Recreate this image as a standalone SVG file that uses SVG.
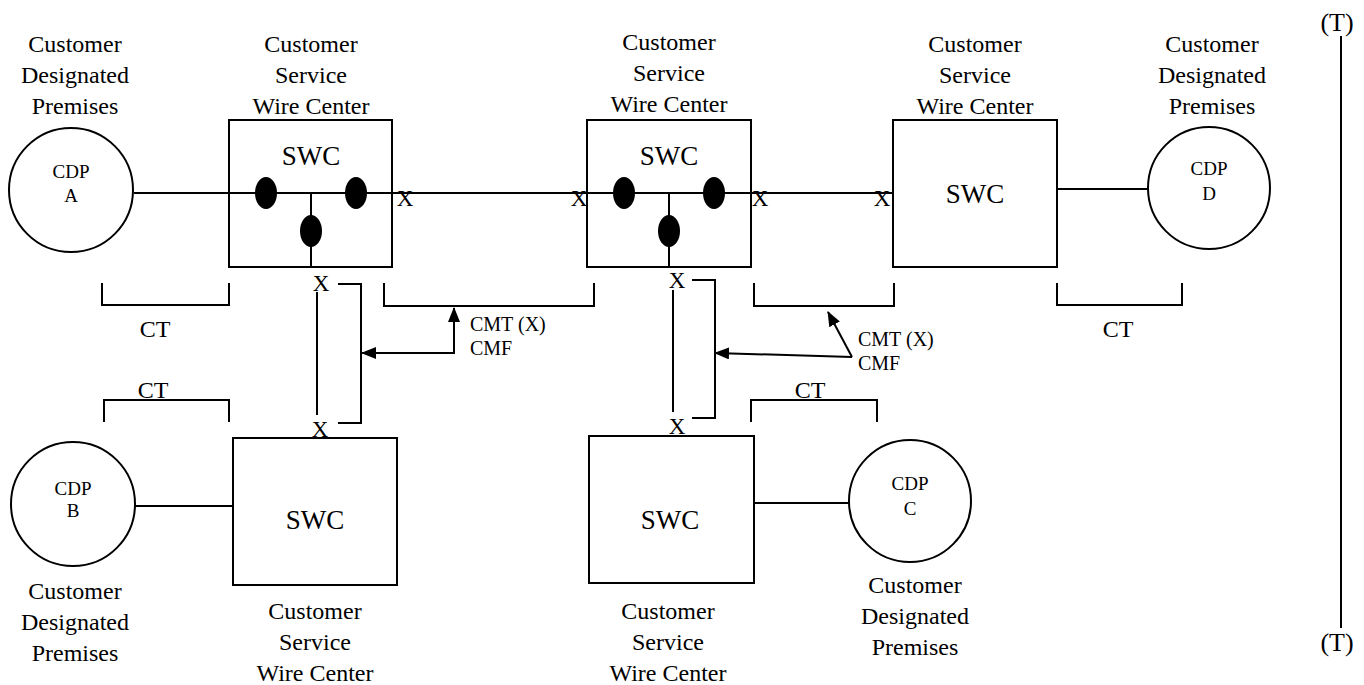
<svg xmlns="http://www.w3.org/2000/svg" width="1364" height="685" viewBox="0 0 1364 685">
<defs>
<marker id="ah" viewBox="0 0 15 12" refX="14" refY="6" markerWidth="15" markerHeight="12" markerUnits="userSpaceOnUse" orient="auto-start-reverse">
<path d="M0,0 L15,6 L0,12 Z" fill="#000"/>
</marker>
</defs>
<style>
text{font-family:"Liberation Serif","Times New Roman",serif;fill:#000}
.lbl{font-size:24px;text-anchor:middle}
.swc{font-size:27px;text-anchor:middle}
.cdp{font-size:19px;text-anchor:middle}
.x{font-size:23px;text-anchor:middle}
.cmt{font-size:20px}
.ct{font-size:24px;text-anchor:middle}
.t{font-size:26px;text-anchor:middle}
.box{fill:#fff;stroke:#000;stroke-width:2}
.ln{fill:none;stroke:#000;stroke-width:2}
.dot{fill:#000}
</style>
<rect width="1364" height="685" fill="#fff"/>

<g id="connectors">
<line class="ln" x1="134" y1="193" x2="229" y2="193"/>
<line class="ln" x1="392" y1="193" x2="587" y2="193"/>
<line class="ln" x1="751" y1="193" x2="893" y2="193"/>
<line class="ln" x1="1057" y1="189" x2="1148" y2="189"/>
<line class="ln" x1="135" y1="506" x2="233" y2="506"/>
<line class="ln" x1="754" y1="503" x2="849" y2="503"/>
<line class="ln" x1="317" y1="292" x2="317" y2="415"/>
<polyline class="ln" points="338,284 361,284 361,423 338,423"/>
<line class="ln" x1="673" y1="290" x2="673" y2="412"/>
<polyline class="ln" points="692,280 715,280 715,418 692,418"/>
<polyline class="ln" points="362,353 454,353 454,308" marker-start="url(#ah)" marker-end="url(#ah)"/>
<line class="ln" x1="852" y1="357" x2="715" y2="353" marker-end="url(#ah)"/>
<line class="ln" x1="852" y1="357" x2="828" y2="312" marker-end="url(#ah)"/>
<line class="ln" x1="1341" y1="36" x2="1341" y2="628"/>
</g>

<g id="brackets">
<polyline class="ln" points="102,283 102,305 229,305 229,283"/>
<polyline class="ln" points="384,283 384,306 594,306 594,283"/>
<polyline class="ln" points="754,283 754,306 894,306 894,283"/>
<polyline class="ln" points="1057,283 1057,305 1182,305 1182,283"/>
<polyline class="ln" points="104,422 104,400 229,400 229,422"/>
<polyline class="ln" points="751,422 751,400 877,400 877,422"/>
<text class="ct" x="155" y="337">CT</text>
<text class="ct" x="1118" y="337">CT</text>
<text class="ct" x="153" y="398">CT</text>
<text class="ct" x="810" y="398">CT</text>
</g>

<g id="cdpA">
<circle class="box" cx="71" cy="190" r="62"/>
<text class="cdp" x="71" y="178">CDP</text>
<text class="cdp" x="71" y="202">A</text>
<text class="lbl" x="75" y="52">Customer</text>
<text class="lbl" x="75" y="83">Designated</text>
<text class="lbl" x="75" y="114">Premises</text>
</g>

<g id="swc1">
<rect class="box" x="229" y="120" width="163" height="147"/>
<line class="ln" x1="229" y1="193" x2="392" y2="193"/>
<line class="ln" x1="311" y1="193" x2="311" y2="267"/>
<ellipse class="dot" cx="266" cy="193" rx="11" ry="16"/>
<ellipse class="dot" cx="356" cy="193" rx="11" ry="16"/>
<ellipse class="dot" cx="311" cy="231" rx="11" ry="16"/>
<text class="swc" x="311" y="165">SWC</text>
<text class="lbl" x="311" y="52">Customer</text>
<text class="lbl" x="311" y="83">Service</text>
<text class="lbl" x="311" y="114">Wire Center</text>
<text class="x" x="405" y="206">X</text>
<text class="x" x="321" y="291">X</text>
</g>

<g id="swc2">
<rect class="box" x="587" y="120" width="164" height="147"/>
<line class="ln" x1="587" y1="193" x2="751" y2="193"/>
<line class="ln" x1="669" y1="193" x2="669" y2="267"/>
<ellipse class="dot" cx="624" cy="193" rx="11" ry="16"/>
<ellipse class="dot" cx="714" cy="193" rx="11" ry="16"/>
<ellipse class="dot" cx="669" cy="231" rx="11" ry="16"/>
<text class="swc" x="669" y="165">SWC</text>
<text class="lbl" x="669" y="50">Customer</text>
<text class="lbl" x="669" y="81">Service</text>
<text class="lbl" x="669" y="112">Wire Center</text>
<text class="x" x="579" y="206">X</text>
<text class="x" x="760" y="206">X</text>
<text class="x" x="677" y="288">X</text>
</g>

<g id="swc3">
<rect class="box" x="893" y="120" width="164" height="147"/>
<text class="swc" x="975" y="203">SWC</text>
<text class="lbl" x="975" y="52">Customer</text>
<text class="lbl" x="975" y="83">Service</text>
<text class="lbl" x="975" y="114">Wire Center</text>
<text class="x" x="882" y="206">X</text>
</g>

<g id="cdpD">
<circle class="box" cx="1209" cy="188" r="61"/>
<text class="cdp" x="1209" y="175">CDP</text>
<text class="cdp" x="1209" y="200">D</text>
<text class="lbl" x="1212" y="52">Customer</text>
<text class="lbl" x="1212" y="83">Designated</text>
<text class="lbl" x="1212" y="114">Premises</text>
</g>

<g id="cdpB">
<circle class="box" cx="73" cy="504" r="62"/>
<text class="cdp" x="73" y="495">CDP</text>
<text class="cdp" x="73" y="517">B</text>
<text class="lbl" x="75" y="599">Customer</text>
<text class="lbl" x="75" y="630">Designated</text>
<text class="lbl" x="75" y="661">Premises</text>
</g>

<g id="swc4">
<rect class="box" x="233" y="438" width="164" height="147"/>
<text class="swc" x="315" y="529">SWC</text>
<text class="x" x="320" y="437">X</text>
<text class="lbl" x="315" y="619">Customer</text>
<text class="lbl" x="315" y="650">Service</text>
<text class="lbl" x="315" y="681">Wire Center</text>
</g>

<g id="swc5">
<rect class="box" x="589" y="436" width="165" height="147"/>
<text class="swc" x="670" y="529">SWC</text>
<text class="x" x="677" y="434">X</text>
<text class="lbl" x="668" y="619">Customer</text>
<text class="lbl" x="668" y="650">Service</text>
<text class="lbl" x="668" y="681">Wire Center</text>
</g>

<g id="cdpC">
<circle class="box" cx="910" cy="501" r="61"/>
<text class="cdp" x="910" y="490">CDP</text>
<text class="cdp" x="910" y="515">C</text>
<text class="lbl" x="915" y="593">Customer</text>
<text class="lbl" x="915" y="624">Designated</text>
<text class="lbl" x="915" y="655">Premises</text>
</g>

<g id="labels">
<text class="cmt" x="470" y="331">CMT (X)</text>
<text class="cmt" x="470" y="355">CMF</text>
<text class="cmt" x="858" y="346">CMT (X)</text>
<text class="cmt" x="858" y="370">CMF</text>
<text class="t" x="1337" y="31">(T)</text>
<text class="t" x="1337" y="651">(T)</text>
</g>
</svg>
